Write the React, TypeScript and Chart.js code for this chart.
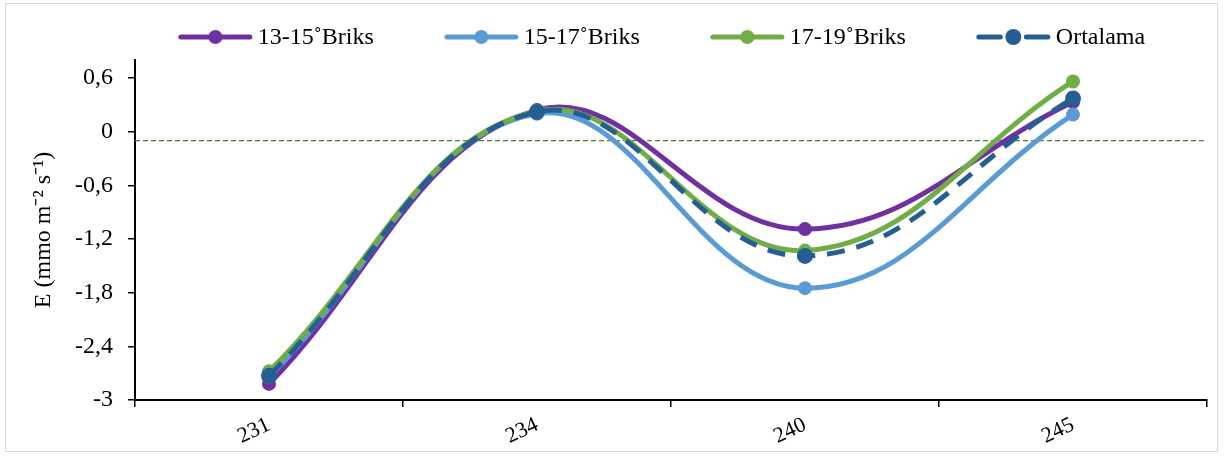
import React, { useEffect, useRef } from "react";
import { Chart, registerables } from "chart.js";

Chart.register(...registerables);

const categories = ["231", "234", "240", "245"];
const seriesNames = ["13-15˚Briks", "15-17˚Briks", "17-19˚Briks", "Ortalama"];
const brix1315 = [-2.82, 0.24, -1.09, 0.33];
const brix1517 = [-2.74, 0.2, -1.75, 0.19];
const brix1719 = [-2.68, 0.23, -1.33, 0.56];
const ortalama = [-2.73, 0.22, -1.39, 0.37];
const refLineValue = -0.1;
const yMin = -3;
const yMax = 0.8;
const yStep = 0.6;
const yTitle = "E (mmo m⁻² s⁻¹)";

const colors = ["#7030A0", "#5B9BD5", "#70AD47", "#255E91"];
const FONT = "'Liberation Serif', 'Times New Roman', serif";

const fmt = (v: number) => {
  const r = Math.round(v * 10) / 10;
  if (Math.abs(r) < 1e-9) return "0";
  return String(r).replace(".", ",");
};

const refLinePlugin = {
  id: "refLine",
  beforeDatasetsDraw(chart: any) {
    const { ctx, chartArea, scales } = chart;
    const y = scales.y.getPixelForValue(refLineValue);
    ctx.save();
    ctx.strokeStyle = "#548235";
    ctx.lineWidth = 1.3;
    ctx.setLineDash([5, 3]);
    ctx.beginPath();
    ctx.moveTo(chartArea.left, y);
    ctx.lineTo(chartArea.right, y);
    ctx.stroke();
    ctx.restore();
  },
};

const legendPlugin = {
  id: "customLegend",
  afterDraw(chart: any) {
    const { ctx, chartArea } = chart;
    ctx.save();
    ctx.font = `24px ${FONT}`;
    const lineLen = 73;
    const textGap = 6;
    const itemGap = 71;
    const widths = seriesNames.map((n) => lineLen + textGap + ctx.measureText(n).width);
    const total = widths.reduce((a, b) => a + b, 0) + itemGap * (widths.length - 1);
    let x = (chartArea.left + chartArea.right) / 2 - total / 2 - 9;
    const y = 33;
    seriesNames.forEach((name, i) => {
      ctx.strokeStyle = colors[i];
      ctx.fillStyle = colors[i];
      ctx.lineWidth = 5;
      ctx.lineCap = "round";
      const cx = x + lineLen / 2;
      if (i === 3) {
        ctx.beginPath();
        ctx.moveTo(x + 2, y);
        ctx.lineTo(cx - 13, y);
        ctx.moveTo(cx + 13, y);
        ctx.lineTo(x + lineLen - 2, y);
        ctx.stroke();
      } else {
        ctx.beginPath();
        ctx.moveTo(x + 2, y);
        ctx.lineTo(x + lineLen - 2, y);
        ctx.stroke();
      }
      ctx.beginPath();
      ctx.arc(cx, y, i === 3 ? 8 : 7, 0, Math.PI * 2);
      ctx.fill();
      ctx.fillStyle = "#000";
      ctx.textBaseline = "middle";
      ctx.textAlign = "left";
      ctx.fillText(name, x + lineLen + textGap, y + 1);
      x += widths[i] + itemGap;
    });
    ctx.restore();
  },
};

export default function App() {
  const ref = useRef<HTMLCanvasElement | null>(null);
  useEffect(() => {
    if (!ref.current) return;
    const series = [brix1315, brix1517, brix1719, ortalama];
    const chart = new Chart(ref.current, {
      type: "line",
      data: {
        labels: categories,
        datasets: series.map((data, i) => ({
          label: seriesNames[i],
          data,
          borderColor: colors[i],
          backgroundColor: colors[i],
          borderWidth: 5,
          borderDash: i === 3 ? [18, 12] : [],
          pointRadius: i === 3 ? 8 : 7,
          pointHoverRadius: 8,
          pointBorderWidth: 0,
          tension: 0.4,
          order: 4 - i,
          fill: false,
        })),
      },
      options: {
        animation: false,
        responsive: false,
        maintainAspectRatio: false,
        layout: { padding: { top: 56, right: 10, left: 23, bottom: 0 } },
        plugins: {
          legend: { display: false },
          tooltip: { enabled: false },
        },
        scales: {
          x: {
            offset: true,
            afterFit: (s: any) => {
              s.height = 51;
            },
            grid: {
              offset: true,
              drawOnChartArea: false,
              drawTicks: true,
              tickLength: 7,
              color: "#000",
              lineWidth: 1.5,
            },
            border: { display: true, color: "#000", width: 2 },
            ticks: {
              color: "#000",
              font: { family: FONT, size: 22 },
              minRotation: 25,
              maxRotation: 25,
              padding: 5,
            },
          },
          y: {
            min: yMin,
            max: yMax,
            afterFit: (s: any) => {
              s.width = 106;
            },
            afterBuildTicks: (scale: any) => {
              const t: any[] = [];
              for (let v = yMin; v <= 0.6 + 1e-9; v += yStep) t.push({ value: Math.round(v * 10) / 10 });
              scale.ticks = t;
            },
            grid: {
              drawOnChartArea: false,
              drawTicks: true,
              tickLength: 7,
              color: "#000",
              lineWidth: 1.5,
            },
            border: { display: true, color: "#000", width: 2 },
            ticks: {
              color: "#000",
              font: { family: FONT, size: 24 },
              padding: 15,
              callback: (v: any) => fmt(Number(v)),
            },
            title: {
              display: true,
              text: yTitle,
              color: "#000",
              font: { family: FONT, size: 24 },
              padding: { top: 0, bottom: 0 },
            },
          },
        },
      },
      plugins: [refLinePlugin, legendPlugin],
    });
    return () => chart.destroy();
  }, []);
  return (
    <div
      style={{
        position: "absolute",
        left: 5,
        top: 3,
        width: 1213,
        height: 449,
        border: "1px solid #d9d9d9",
        boxSizing: "border-box",
        background: "#fff",
      }}
    >
      <canvas ref={ref} width={1211} height={447} style={{ display: "block" }} />
    </div>
  );
}
